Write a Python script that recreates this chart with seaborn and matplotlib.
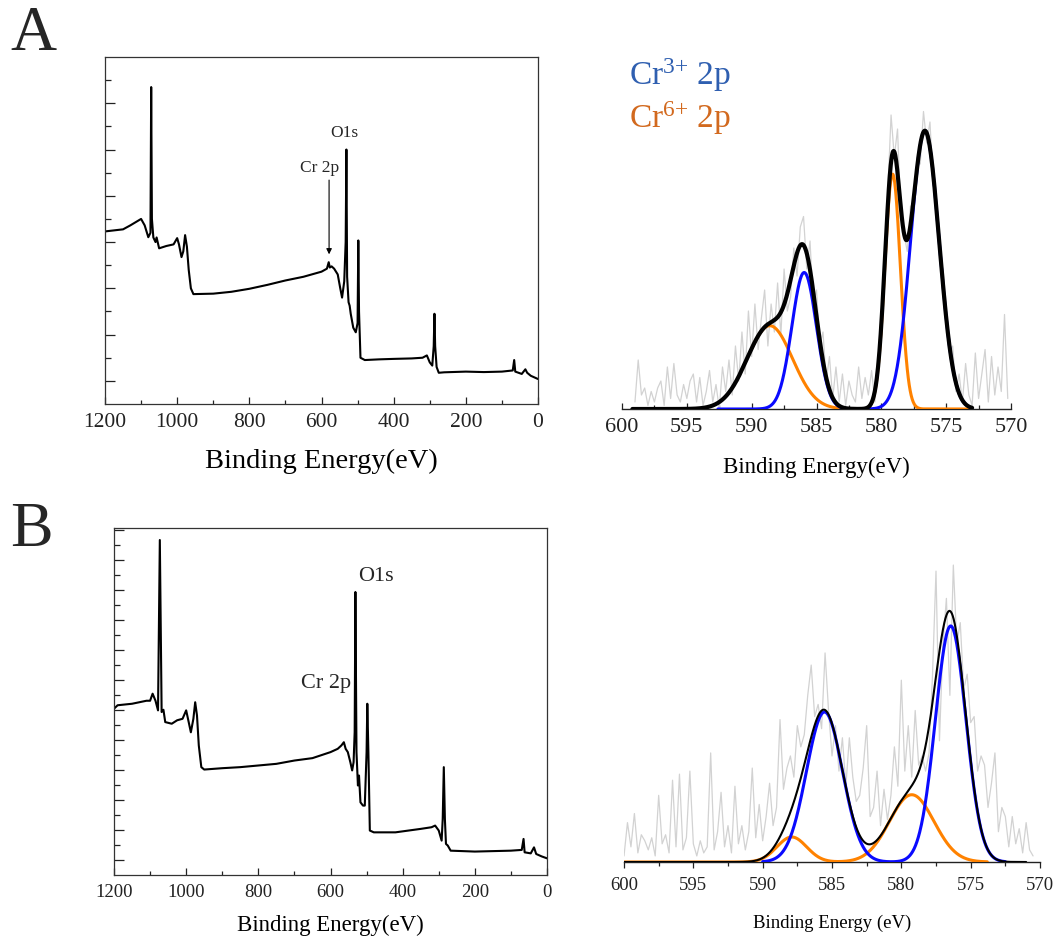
import numpy as np
import matplotlib
matplotlib.use('Agg')
import matplotlib.pyplot as plt
import seaborn as sns
from matplotlib.ticker import MultipleLocator, FixedLocator

sns.set_theme(style='white')
plt.rcParams['font.family'] = ['Liberation Serif', 'DejaVu Serif']
plt.rcParams['mathtext.fontset'] = 'custom'
plt.rcParams['mathtext.rm'] = 'Liberation Serif'
plt.rcParams['mathtext.it'] = 'Liberation Serif:italic'

# survey spectra (binding energy eV, intensity a.u.)
survey_a = [(1200, 7.46), (1150, 7.55), (1130, 7.72), (1100, 8.0), (1090, 7.72), (1080, 7.21),
            (1074, 7.4), (1072, 13.7), (1070, 8.0), (1066, 7.2), (1060, 7.0), (1057, 7.2),
            (1050, 6.73), (1030, 6.83), (1010, 6.9), (1000, 7.17), (995, 6.9), (988, 6.35),
            (983, 6.6), (978, 7.3), (973, 6.8), (968, 5.8), (962, 5.0), (955, 4.75), (900, 4.77),
            (850, 4.85), (800, 4.98), (750, 5.15), (700, 5.34), (650, 5.5), (600, 5.72),
            (585, 5.85), (580, 6.13), (577, 5.9), (572, 5.95), (565, 5.85), (555, 5.6),
            (548, 5.0), (543, 4.6), (537, 5.3), (533, 7.0), (531, 11.0), (529, 5.5), (525, 4.4),
            (522, 4.25), (519, 3.9), (512, 3.3), (505, 3.1), (500, 3.5), (498, 7.07), (496, 4.0),
            (492, 2.0), (480, 1.9), (440, 1.93), (400, 1.95), (350, 1.97), (320, 2.0), (308, 2.1),
            (300, 1.8), (293, 1.66), (289, 2.5), (287, 3.9), (285, 2.5), (281, 1.6), (275, 1.35),
            (260, 1.37), (200, 1.4), (150, 1.38), (100, 1.4), (70, 1.45), (66, 1.9), (63, 1.4),
            (45, 1.3), (35, 1.5), (30, 1.35), (20, 1.22), (0, 1.08)]

survey_b = [(1200, 11.07), (1190, 11.3), (1150, 11.4), (1110, 11.6), (1100, 11.6), (1093, 12.07),
            (1085, 11.6), (1078, 10.96), (1073, 22.3), (1068, 10.85), (1063, 11.0), (1058, 10.18),
            (1040, 10.07), (1025, 10.3), (1010, 10.4), (1000, 10.96), (993, 10.18), (987, 9.5),
            (980, 10.4), (975, 11.5), (970, 10.62), (965, 8.62), (958, 7.18), (950, 7.02),
            (900, 7.11), (850, 7.18), (800, 7.29), (750, 7.4), (700, 7.62), (650, 7.78),
            (600, 8.18), (580, 8.4), (570, 8.62), (563, 8.84), (558, 8.4), (552, 8.18),
            (545, 7.51), (540, 6.96), (536, 7.51), (533, 9.51), (531, 18.84), (528, 8.18),
            (524, 5.96), (521, 6.62), (517, 4.84), (510, 4.62), (505, 4.62), (500, 8.18),
            (498, 11.4), (495, 8.18), (491, 2.96), (480, 2.84), (420, 2.84), (350, 3.07),
            (320, 3.18), (310, 3.29), (300, 2.96), (292, 2.29), (289, 3.73), (286, 7.18),
            (283, 3.73), (280, 2.07), (275, 1.96), (267, 1.62), (200, 1.56), (100, 1.62),
            (70, 1.67), (65, 2.4), (62, 1.51), (45, 1.44), (36, 1.84), (30, 1.4), (15, 1.24),
            (0, 1.11)]

# Cr 2p high-resolution raw counts (0.25 eV steps, normalised)
raw_a = [0.02, 0.14, 0.04, 0.06, 0.01, 0.05, 0.02, 0.06, 0.08, 0.01, 0.12, 0.03,
         0.13, 0.04, 0.02, 0.07, 0.03, 0.08, 0.10, 0.02, 0.09, 0.01, 0.05, 0.11,
         0.02, 0.07, 0.00, 0.12, 0.05, 0.14, 0.04, 0.18, 0.08, 0.22, 0.10, 0.28,
         0.15, 0.30, 0.17, 0.26, 0.34, 0.18, 0.30, 0.22, 0.36, 0.21, 0.40, 0.28,
         0.32, 0.46, 0.38, 0.52, 0.55, 0.40, 0.48, 0.30, 0.34, 0.18, 0.22, 0.08,
         0.15, 0.03, 0.12, 0.02, 0.10, 0.01, 0.08, 0.04, 0.02, 0.12, 0.03, 0.09,
         0.04, 0.11, 0.02, 0.14, 0.20, 0.45, 0.62, 0.84, 0.72, 0.80, 0.55, 0.50,
         0.45, 0.58, 0.57, 0.72, 0.70, 0.85, 0.76, 0.82, 0.64, 0.60, 0.42, 0.40,
         0.30, 0.16, 0.18, 0.05, 0.10, 0.02, 0.13, 0.04, 0.01, 0.16, 0.03, 0.10,
         0.17, 0.02, 0.15, 0.04, 0.12, 0.05, 0.27, 0.03]
raw_a_range = (599.0, 570.25)

raw_b = [0.02, 0.13, 0.05, 0.16, 0.03, 0.09, 0.07, 0.04, 0.08, 0.02, 0.22, 0.06,
         0.09, 0.03, 0.27, 0.05, 0.29, 0.04, 0.08, 0.30, 0.06, 0.02, 0.07, 0.03,
         0.05, 0.36, 0.04, 0.10, 0.23, 0.05, 0.12, 0.03, 0.25, 0.06, 0.12, 0.04,
         0.10, 0.31, 0.08, 0.19, 0.07, 0.15, 0.26, 0.12, 0.18, 0.47, 0.24, 0.31,
         0.35, 0.28, 0.45, 0.38, 0.42, 0.55, 0.65, 0.48, 0.52, 0.44, 0.69, 0.50,
         0.35, 0.45, 0.30, 0.41, 0.25, 0.41, 0.28, 0.20, 0.22, 0.31, 0.45, 0.15,
         0.18, 0.30, 0.12, 0.24, 0.14, 0.22, 0.38, 0.25, 0.60, 0.30, 0.45, 0.28,
         0.50, 0.32, 0.35, 0.30, 0.36, 0.62, 0.96, 0.40, 0.72, 0.87, 0.55, 0.98,
         0.72, 0.79, 0.57, 0.62, 0.46, 0.48, 0.30, 0.35, 0.32, 0.18, 0.26, 0.36,
         0.10, 0.18, 0.15, 0.05, 0.15, 0.06, 0.11, 0.03, 0.13, 0.04, 0.02]
raw_b_range = (600.0, 570.5)

# fitted components: (centre eV, height, sigma eV)
cr3_a = [(585.95, 0.39, 0.95), (576.64, 0.795, 1.1)]
cr6_a = [(588.6, 0.238, 1.75), (579.13, 0.671, 0.6)]
cr3_b = [(585.54, 0.495, 1.3), (576.44, 0.779, 1.1)]
cr6_b = [(587.9, 0.0825, 1.07), (579.25, 0.222, 1.6)]

W, H = 1056, 945
BLUE = '#0a0aff'
ORANGE = '#ff8200'
GREY = '#d2d2d2'


def px_axes(fig, l, t, r, b):
    return fig.add_axes([l / W, 1 - b / H, (r - l) / W, (b - t) / H])


def gauss_sum(x, comps):
    return sum(h * np.exp(-(x - c) ** 2 / (2 * s ** 2)) for c, h, s in comps)


def survey(ax, pts, ytop, tick_fs, label_fs, labelpad):
    e, y = zip(*pts)
    sns.lineplot(x=list(e), y=list(y), ax=ax, color='black', lw=1.5,
                 sort=False, estimator=None)
    ax.set_xlim(1200, 0)
    ax.set_ylim(0, ytop)
    ax.xaxis.set_major_locator(MultipleLocator(200))
    ax.xaxis.set_minor_locator(MultipleLocator(100))
    ax.yaxis.set_major_locator(FixedLocator(np.arange(1, ytop, 2)))
    ax.yaxis.set_minor_locator(FixedLocator(np.arange(2, ytop, 2)))
    ax.tick_params(which='both', direction='in', left=True, bottom=True,
                   right=False, top=False, labelleft=False, colors='#222222',
                   labelsize=tick_fs, pad=6)
    ax.tick_params(axis='y', which='major', length=7, width=0.9)
    ax.tick_params(axis='y', which='minor', length=4, width=0.9)
    ax.tick_params(axis='x', which='major', length=5, width=0.9)
    ax.tick_params(axis='x', which='minor', length=3, width=0.9)
    for sp in ax.spines.values():
        sp.set_color('#333333')
        sp.set_linewidth(0.9)
    ax.set_xlabel('Binding Energy(eV)', fontsize=label_fs, labelpad=labelpad, color='black')
    ax.set_ylabel('')


def fit_panel(ax, raw, raw_range, cr3, cr6, spans, lws, tick_fs, label, label_fs,
              labelpad, tick_dir):
    raw_e = np.linspace(raw_range[0], raw_range[1], len(raw))
    sns.lineplot(x=raw_e, y=raw, ax=ax, color=GREY, lw=0.9, zorder=1)
    grid = np.linspace(600, 570, 1201)
    curves = [(gauss_sum(grid, cr6), ORANGE, spans[0], lws[0], 2),
              (gauss_sum(grid, cr3), BLUE, spans[1], lws[1], 3),
              (gauss_sum(grid, cr3 + cr6), 'black', spans[2], lws[2], 4)]
    for yv, col, (hi, lo), lw, z in curves:
        m = (grid <= hi) & (grid >= lo)
        sns.lineplot(x=grid[m], y=yv[m], ax=ax, color=col, lw=lw, zorder=z)
    ax.set_xlim(600, 570)
    ax.set_ylim(0, 1)
    ax.xaxis.set_major_locator(MultipleLocator(5))
    ax.xaxis.set_minor_locator(MultipleLocator(2.5))
    for side in ('left', 'right', 'top'):
        ax.spines[side].set_visible(False)
    ax.spines['bottom'].set_color('#222222')
    ax.spines['bottom'].set_linewidth(1.0)
    ax.spines['bottom'].set_zorder(0)
    ax.set_yticks([])
    ax.tick_params(axis='x', which='both', direction=tick_dir, bottom=True,
                   labelsize=tick_fs, colors='#222222', width=0.9, pad=6)
    ax.tick_params(axis='x', which='major', length=4)
    ax.tick_params(axis='x', which='minor', length=3)
    ax.set_xlabel(label, fontsize=label_fs, labelpad=labelpad, color='black')
    ax.set_ylabel('')
    ax.patch.set_alpha(0)


fig = plt.figure(figsize=(W / 100, H / 100), dpi=100)

ax1 = px_axes(fig, 105, 58, 538, 405)
survey(ax1, survey_a, 15.0, 15.5, 20.5, 12)
ax1.text(537, 11.75, 'O1s', fontsize=12.5, ha='center', va='center')
ax1.text(604, 10.24, 'Cr 2p', fontsize=12.5, ha='center', va='center')
ax1.annotate('', xy=(579, 6.35), xytext=(579, 9.8),
             arrowprops=dict(arrowstyle='-|>', color='black', lw=0.8,
                             mutation_scale=8))

ax3 = px_axes(fig, 114, 529, 547, 876)
survey(ax3, survey_b, 23.1, 13.5, 16.5, 10)
ax3.text(473, 19.96, 'O1s', fontsize=16, ha='center', va='center')
ax3.text(612, 12.84, 'Cr 2p', fontsize=16, ha='center', va='center')

ax2 = px_axes(fig, 622, 60, 1011, 410)
fit_panel(ax2, raw_a, raw_a_range, cr3_a, cr6_a,
          spans=[(590.0, 573.2), (592.6, 573.5), (599.2, 573.0)],
          lws=[2.2, 2.2, 3.0], tick_fs=16, label='Binding Energy(eV)',
          label_fs=16.5, labelpad=14, tick_dir='in')
ax2.text(599.46, 0.957, r'Cr$^{3{+}}$ 2p', color='#2f5fb0', fontsize=24,
         ha='left', va='center')
ax2.text(599.46, 0.834, r'Cr$^{6{+}}$ 2p', color='#d2691e', fontsize=24,
         ha='left', va='center')

ax4 = px_axes(fig, 624, 560, 1040, 863)
fit_panel(ax4, raw_b, raw_b_range, cr3_b, cr6_b,
          spans=[(600.0, 573.8), (590.0, 572.5), (600.0, 571.0)],
          lws=[2.2, 2.2, 1.5], tick_fs=13.5, label='Binding Energy (eV)',
          label_fs=13.5, labelpad=15, tick_dir='out')

fig.text(10 / W, 1 - 50 / H, 'A', fontsize=46, ha='left', va='baseline')
fig.text(10 / W, 1 - 546 / H, 'B', fontsize=46, ha='left', va='baseline')

fig.savefig('out.png', dpi=100, facecolor='white')
